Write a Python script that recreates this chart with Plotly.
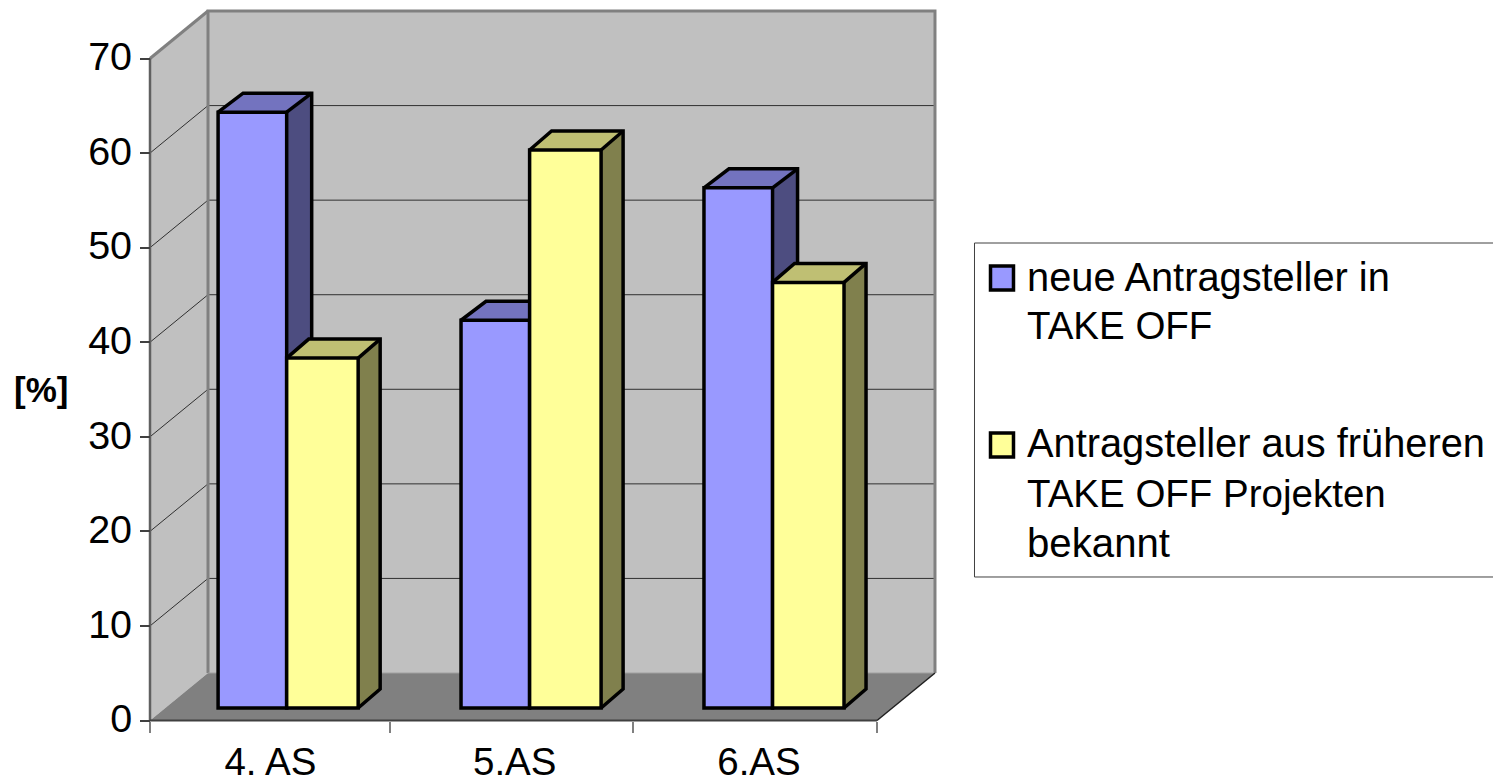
import plotly.graph_objects as go

# Chart values
categories = ["4. AS", "5.AS", "6.AS"]
legend_first = ["neue Antragsteller in", "TAKE OFF"]
legend_second = ["Antragsteller aus früheren", "TAKE OFF Projekten", "bekannt"]
neue_antragsteller = [63, 41, 55]
fruehere_projekte = [37, 59, 45]
value_ticks = [0, 10, 20, 30, 40, 50, 60, 70]
category_edges = [0, 0.99, 1.995, 3]
category_label_positions = [0.497, 1.505, 2.513]

# Canvas and scale factors
W, H = 1493, 780
FONT = "Liberation Sans"
TEXT_SIZE = 39.5
PX_PER_CAT = 242.33
PX_PER_PCT = 9.457
ZERO_X, ZERO_Y = 150.0, 720.5
PLOT_L, PLOT_R, PLOT_T, PLOT_B = 140, 945, 5, 730


def dx(px):
    return px / PX_PER_CAT


def dy(px):
    return px / PX_PER_PCT


def fx(px):
    return px / W


def fy(px):
    return 1 - px / H


WALL_DX, WALL_DY = dx(58), dy(47.5)
BAR_BASE = dy(12.5)
GROUP_STEP = 1.0025
BLUE_START, BLUE_WIDTH = 0.281, 0.283
YELLOW_START, YELLOW_WIDTH = 0.564, 0.295
BLUE_DEPTH_X, YELLOW_DEPTH_X, BAR_DEPTH_Y = dx(25), dx(22), dy(19)
BAR_STROKE = 3.5

BLUE, BLUE_TOP, BLUE_SIDE = "#9999FF", "#7373BF", "#4D4D80"
YELLOW, YELLOW_TOP, YELLOW_SIDE = "#FFFF99", "#BFBF73", "#80804D"
WALL, FLOOR, EDGE = "#C0C0C0", "#808080", "#808080"


def poly(points, fill=None, line=None, width=0, layer="below", ref="data"):
    path = "M" + "L".join(f"{x:.5f},{y:.5f}" for x, y in points)
    if fill:
        path += "Z"
    shape = dict(type="path", path=path, layer=layer,
                 line=dict(color=line or "rgba(0,0,0,0)", width=width))
    if fill:
        shape["fillcolor"] = fill
    if ref == "data":
        shape.update(xref="x", yref="y")
    else:
        shape.update(xref="paper", yref="paper")
    return shape


shapes = []
x_end = category_edges[-1]
y_top = value_ticks[-1]

# Side wall, back wall and floor of the box
shapes.append(poly([(0, 0), (WALL_DX, WALL_DY), (WALL_DX, y_top + WALL_DY), (0, y_top)], fill=WALL))
shapes.append(poly([(WALL_DX, WALL_DY), (x_end + WALL_DX, WALL_DY),
                    (x_end + WALL_DX, y_top + WALL_DY), (WALL_DX, y_top + WALL_DY)], fill=WALL))
shapes.append(poly([(0, 0), (x_end, 0), (x_end + WALL_DX, WALL_DY), (WALL_DX, WALL_DY)], fill=FLOOR))

# Gridlines run along the side wall and across the back wall
for t in value_ticks[1:-1]:
    shapes.append(poly([(0, t), (WALL_DX, t + WALL_DY), (x_end + WALL_DX, t + WALL_DY)],
                       line="#303030", width=1))

# Box edges
shapes.append(poly([(WALL_DX, WALL_DY), (WALL_DX, y_top + WALL_DY), (x_end + WALL_DX, y_top + WALL_DY),
                    (x_end + WALL_DX, WALL_DY)], line=EDGE, width=3))
shapes.append(poly([(0, y_top), (WALL_DX, y_top + WALL_DY)], line=EDGE, width=3))
shapes.append(poly([(WALL_DX, WALL_DY), (x_end + WALL_DX, WALL_DY)], line="#A0A0A0", width=1))
shapes.append(poly([(x_end, 0), (x_end + WALL_DX, WALL_DY)], line="#202020", width=1.5))
shapes.append(poly([(0, 0), (0, y_top)], line="#606060", width=2.5))
shapes.append(poly([(0, 0), (x_end, 0)], line="#404040", width=2))


def add_faces(x0, width, value, depth_x, top_color, side_color):
    x1 = x0 + width
    top = BAR_BASE + value
    back = top + BAR_DEPTH_Y
    floor_back = BAR_BASE + BAR_DEPTH_Y
    # Fills first, then one outline around the pair so the back corner stays square
    shapes.append(poly([(x1, BAR_BASE), (x1 + depth_x, floor_back), (x1 + depth_x, back), (x1, top)],
                       fill=side_color, layer="between"))
    shapes.append(poly([(x0, top), (x0 + depth_x, back), (x1 + depth_x, back), (x1, top)],
                       fill=top_color, layer="between"))
    shapes.append(poly([(x0, top), (x0 + depth_x, back), (x1 + depth_x, back),
                        (x1 + depth_x, floor_back), (x1, BAR_BASE)],
                       line="black", width=BAR_STROKE, layer="between"))
    shapes.append(poly([(x1, top), (x1 + depth_x, back)], line="black", width=BAR_STROKE, layer="between"))


# Top and side faces sit under the bar fronts
blue_x = [i * GROUP_STEP + BLUE_START for i in range(len(categories))]
yellow_x = [i * GROUP_STEP + YELLOW_START for i in range(len(categories))]
for x0, v in zip(blue_x, neue_antragsteller):
    add_faces(x0, BLUE_WIDTH, v, BLUE_DEPTH_X, BLUE_TOP, BLUE_SIDE)
for x0, v in zip(yellow_x, fruehere_projekte):
    add_faces(x0, YELLOW_WIDTH, v, YELLOW_DEPTH_X, YELLOW_TOP, YELLOW_SIDE)

fig = go.Figure()
fig.add_bar(x=blue_x, y=neue_antragsteller, base=BAR_BASE, width=BLUE_WIDTH, offset=0,
            name=" ".join(legend_first), showlegend=False,
            marker=dict(color=BLUE, line=dict(color="black", width=BAR_STROKE)))
fig.add_bar(x=yellow_x, y=fruehere_projekte, base=BAR_BASE, width=YELLOW_WIDTH, offset=0,
            name=" ".join(legend_second), showlegend=False,
            marker=dict(color=YELLOW, line=dict(color="black", width=BAR_STROKE)))

# Legend box with swatches and labels
LEG_L, LEG_R, LEG_T, LEG_B = 974.5, 1500, 243, 577
shapes.append(poly([(fx(LEG_L), fy(LEG_T)), (fx(LEG_R), fy(LEG_T)), (fx(LEG_R), fy(LEG_B)), (fx(LEG_L), fy(LEG_B))],
                   fill="white", line="#404040", width=1, layer="above", ref="paper"))
for top, color in [(266, BLUE), (433, YELLOW)]:
    shapes.append(poly([(fx(990.5), fy(top)), (fx(1013.5), fy(top)), (fx(1013.5), fy(top + 24)), (fx(990.5), fy(top + 24))],
                       fill=color, line="black", width=3.5, layer="above", ref="paper"))

annotations = []
legend_text = legend_first + legend_second
legend_centers = [277, 325, 443, 493, 543]
legend_sizes = [39.8, 38.5, 39.8, 38.5, 40.2]
for text, center, size in zip(legend_text, legend_centers, legend_sizes):
    annotations.append(dict(text=text, x=fx(1025), y=fy(center), xref="paper", yref="paper", xanchor="left",
                            yanchor="middle", align="left", showarrow=False,
                            font=dict(family=FONT, size=size, color="black")))
annotations.append(dict(text="<b>[%]</b>", x=fx(41), y=fy(389), xref="paper", yref="paper", xanchor="center",
                        yanchor="middle", showarrow=False, font=dict(family=FONT, size=35, color="black")))

fig.update_layout(
    width=W, height=H, autosize=False, margin=dict(l=0, r=0, t=0, b=0),
    paper_bgcolor="white", plot_bgcolor="rgba(0,0,0,0)", showlegend=False,
    font=dict(family=FONT, size=TEXT_SIZE, color="black"),
    shapes=shapes, annotations=annotations, barmode="overlay",
    xaxis=dict(
        domain=[PLOT_L / W, PLOT_R / W],
        range=[(PLOT_L - ZERO_X) / PX_PER_CAT, (PLOT_R - ZERO_X) / PX_PER_CAT],
        anchor="free", position=1 - ZERO_Y / H, automargin=False,
        tickmode="array", tickvals=category_label_positions, ticktext=categories,
        tickfont=dict(family=FONT, size=38.5, color="black"),
        ticks="", ticklabelstandoff=15, showgrid=False, showline=False, zeroline=False,
        minor=dict(tickmode="array", tickvals=category_edges, ticks="outside", ticklen=11,
                   tickwidth=2, tickcolor="#808080", showgrid=False),
    ),
    yaxis=dict(
        domain=[1 - PLOT_B / H, 1 - PLOT_T / H],
        range=[(ZERO_Y - PLOT_B) / PX_PER_PCT, (ZERO_Y - PLOT_T) / PX_PER_PCT],
        anchor="free", position=ZERO_X / W, automargin=False,
        tickmode="array", tickvals=value_ticks, ticklabelshift=-2,
        ticks="outside", ticklen=10, tickwidth=1.5, tickcolor="#404040",
        showgrid=False, showline=False, zeroline=False,
    ),
)

fig.write_html("out.html")
